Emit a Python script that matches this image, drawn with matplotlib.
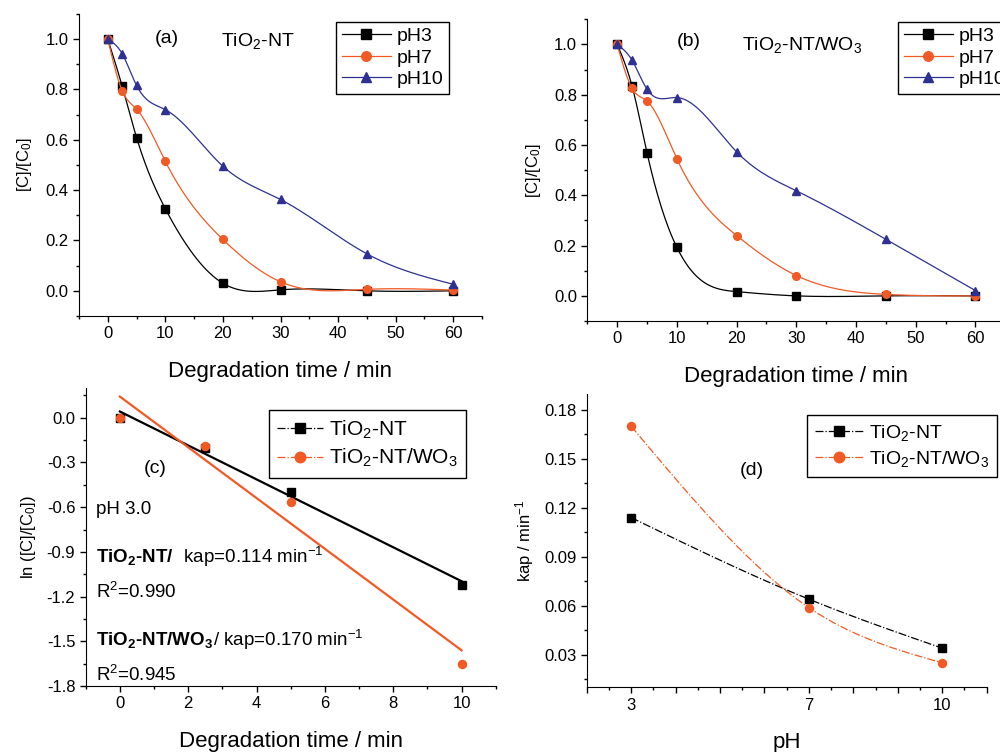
import numpy as np
import matplotlib
matplotlib.use('Agg')
import matplotlib.pyplot as plt
from matplotlib.ticker import MultipleLocator, FixedLocator

plt.rcParams['font.family'] = ['Liberation Sans', 'DejaVu Sans']
plt.rcParams['mathtext.default'] = 'regular'
plt.rcParams['axes.unicode_minus'] = False

BLACK = '#000000'
ORANGE = '#F15A24'
BLUE = '#2E3192'

# --- data ---
t = [0, 2.5, 5, 10, 20, 30, 45, 60]
a_ph3 = [1.0, 0.813, 0.609, 0.326, 0.030, 0.004, 0.0, 0.0]
a_ph7 = [1.0, 0.795, 0.722, 0.514, 0.204, 0.036, 0.006, 0.003]
a_ph10 = [1.0, 0.942, 0.816, 0.720, 0.495, 0.363, 0.147, 0.026]

b_ph3 = [1.0, 0.834, 0.569, 0.193, 0.017, 0.0, 0.0, 0.0]
b_ph7 = [1.0, 0.825, 0.775, 0.545, 0.240, 0.081, 0.006, 0.0]
b_ph10 = [1.0, 0.937, 0.822, 0.789, 0.573, 0.418, 0.225, 0.021]

t_short = [0, 2.5, 5, 10]
ln_nt = [0.0, -0.205, -0.500, -1.120]
ln_wo3 = [0.0, -0.188, -0.568, -1.655]

ph = [3, 7, 10]
kap_nt = [0.114, 0.064, 0.034]
kap_wo3 = [0.170, 0.0588, 0.025]


def spline(x, y, n=300):
    # natural cubic spline, like the "spline connect" of the original
    x = np.asarray(x, float)
    y = np.asarray(y, float)
    m = len(x)
    h = np.diff(x)
    A = np.zeros((m, m))
    r = np.zeros(m)
    A[0, 0] = A[-1, -1] = 1
    for i in range(1, m - 1):
        A[i, i - 1] = h[i - 1]
        A[i, i] = 2 * (h[i - 1] + h[i])
        A[i, i + 1] = h[i]
        r[i] = 3 * ((y[i + 1] - y[i]) / h[i] - (y[i] - y[i - 1]) / h[i - 1])
    c = np.linalg.solve(A, r)
    xs = np.linspace(x[0], x[-1], n)
    k = np.clip(np.searchsorted(x, xs) - 1, 0, m - 2)
    dx = xs - x[k]
    b = (y[k + 1] - y[k]) / h[k] - h[k] * (2 * c[k] + c[k + 1]) / 3
    d = (c[k + 1] - c[k]) / (3 * h[k])
    return xs, y[k] + b * dx + c[k] * dx ** 2 + d * dx ** 3


def style(ax):
    ax.spines['top'].set_visible(False)
    ax.spines['right'].set_visible(False)
    ax.tick_params(which='major', direction='out', length=4, width=1, labelsize=12)
    ax.tick_params(which='minor', direction='out', length=2.5, width=1)


def series(ax, x, y, color, marker, ms, label, ls='-'):
    xs, ys = spline(x, y)
    ax.plot(xs, ys, color=color, lw=0.9, ls=ls)
    ax.plot(x, y, ls='none', marker=marker, ms=ms, color=color)
    # legend proxy
    ax.plot([], [], color=color, lw=0.9, ls=ls, marker=marker, ms=ms, label=label)


fig = plt.figure(figsize=(10, 7.52), dpi=100)

# ---------- (a) and (b) ----------
for pos, d3, d7, d10, tag, title, tpos, leg in [
        ([0.079, 0.5798, 0.403, 0.4016], a_ph3, a_ph7, a_ph10, '(a)', 'TiO$_2$-NT',
         (0.218, 0.444, 0.92), (0.918, 0.9745, 'upper right')),
        ([0.5873, 0.5731, 0.418, 0.4012], b_ph3, b_ph7, b_ph10, '(b)', 'TiO$_2$-NT/WO$_3$',
         (0.243, 0.513, 0.925), (0.744, 0.992, 'upper left'))]:
    ax = fig.add_axes(pos)
    style(ax)
    series(ax, t, d3, BLACK, 's', 5.3, 'pH3')
    series(ax, t, d7, ORANGE, 'o', 5.5, 'pH7')
    series(ax, t, d10, BLUE, '^', 6.2, 'pH10')
    ax.set_xlim(-5, 65)
    ax.set_ylim(-0.1, 1.1)
    ax.xaxis.set_major_locator(MultipleLocator(10))
    ax.xaxis.set_minor_locator(MultipleLocator(5))
    ax.yaxis.set_major_locator(FixedLocator([0, 0.2, 0.4, 0.6, 0.8, 1.0]))
    ax.yaxis.set_minor_locator(MultipleLocator(0.1))
    ax.set_xlabel('Degradation time / min', fontsize=16, labelpad=14)
    ax.set_ylabel('[C]/[C$_0$]', fontsize=12, labelpad=8)
    ax.text(tpos[0], tpos[2], tag, transform=ax.transAxes, ha='center', va='center', fontsize=14)
    ax.text(tpos[1], tpos[2] - 0.01, title, transform=ax.transAxes, ha='center', va='center', fontsize=14)
    ax.legend(loc=leg[2], bbox_to_anchor=(leg[0], leg[1]), borderaxespad=0, fontsize=14,
              fancybox=False, edgecolor='black', framealpha=1, handlelength=2.5,
              handletextpad=0.3, labelspacing=0.2, borderpad=0.3, markerscale=1.25)

# ---------- (c) ----------
ax = fig.add_axes([0.0857, 0.0878, 0.410, 0.3963])
style(ax)
for y, color, marker, label in [(ln_nt, BLACK, 's', 'TiO$_2$-NT'),
                                (ln_wo3, ORANGE, 'o', 'TiO$_2$-NT/WO$_3$')]:
    k, b0 = np.polyfit(t_short, y, 1)
    xf = np.array([t_short[0], t_short[-1]])
    ax.plot(xf, b0 + k * xf, color=color, lw=1.6)
    ax.plot(t_short, y, ls='none', marker=marker, ms=5.8, color=color)
    ax.plot([], [], color=color, lw=0.9, ls='-.', marker=marker, ms=5.8, label=label)
ax.set_xlim(-1, 11)
ax.set_ylim(-1.8, 0.2)
ax.xaxis.set_major_locator(MultipleLocator(2))
ax.xaxis.set_minor_locator(MultipleLocator(1))
ax.yaxis.set_minor_locator(MultipleLocator(0.15))
ax.set_yticks([0.0, -0.3, -0.6, -0.9, -1.2, -1.5, -1.8])
ax.set_xlabel('Degradation time / min', fontsize=16, labelpad=14)
ax.set_ylabel('ln ([C]/[C$_0$])', fontsize=12, labelpad=6)
ax.text(0.169, 0.731, '(c)', transform=ax.transAxes, ha='center', va='center', fontsize=14)
ax.text(0.025, 0.591, 'pH 3.0', transform=ax.transAxes, va='center', fontsize=13.5)
t1 = ax.text(0.025, 0.433, 'TiO$_2$-NT/', transform=ax.transAxes, va='center',
             fontsize=13.5, fontweight='bold')
ax.annotate('  kap=0.114 min$^{-1}$', xy=(1, 0.5), xycoords=t1, va='center', fontsize=13.5)
ax.text(0.025, 0.315, 'R$^2$=0.990', transform=ax.transAxes, va='center', fontsize=13.5)
t2 = ax.text(0.025, 0.154, 'TiO$_2$-NT/WO$_3$', transform=ax.transAxes, va='center',
             fontsize=13.5, fontweight='bold')
ax.annotate('/ kap=0.170 min$^{-1}$', xy=(1, 0.5), xycoords=t2, va='center', fontsize=13.5)
ax.text(0.025, 0.037, 'R$^2$=0.945', transform=ax.transAxes, va='center', fontsize=13.5)
ax.legend(loc='upper left', bbox_to_anchor=(0.447, 0.926), borderaxespad=0, fontsize=15,
          fancybox=False, edgecolor='black', framealpha=1, handlelength=2.2,
          handletextpad=0.3, labelspacing=0.3, borderpad=0.4, markerscale=1.3)

# ---------- (d) ----------
ax = fig.add_axes([0.5867, 0.0860, 0.400, 0.3906])
style(ax)
series(ax, ph, kap_nt, BLACK, 's', 5.8, 'TiO$_2$-NT', ls='-.')
series(ax, ph, kap_wo3, ORANGE, 'o', 5.8, 'TiO$_2$-NT/WO$_3$', ls='-.')
ax.set_xlim(2, 11)
ax.set_ylim(0.01, 0.19)
ax.xaxis.set_minor_locator(MultipleLocator(0.5))
ax.set_xticks(range(2, 12))
ax.set_xticklabels(['' if v not in ph else str(v) for v in range(2, 12)])
ax.yaxis.set_major_locator(FixedLocator([0.03, 0.06, 0.09, 0.12, 0.15, 0.18]))
ax.yaxis.set_minor_locator(MultipleLocator(0.015))
ax.set_xlabel('pH', fontsize=16, labelpad=14)
ax.set_ylabel('kap / min$^{-1}$', fontsize=12, labelpad=6)
ax.text(0.4125, 0.738, '(d)', transform=ax.transAxes, ha='center', va='center', fontsize=14)
ax.legend(loc='upper left', bbox_to_anchor=(0.551, 0.926), borderaxespad=0, fontsize=14,
          fancybox=False, edgecolor='black', framealpha=1, handlelength=2.5,
          handletextpad=0.3, labelspacing=0.3, borderpad=0.4, markerscale=1.3)

fig.savefig('out.png', dpi=100)
